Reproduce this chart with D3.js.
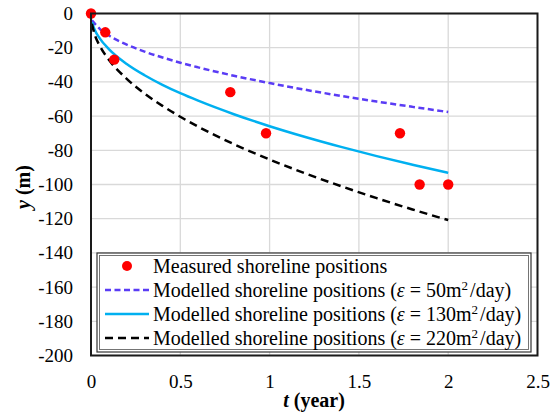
<!DOCTYPE html>
<html>
<head>
<meta charset="utf-8">
<script src="https://cdn.jsdelivr.net/npm/d3@7"></script>
<style>
  html, body { margin: 0; padding: 0; background: #fff; }
  svg { display: block; }
  svg text { font-family: 'Liberation Serif', 'Times New Roman', serif !important; fill: #000; }
</style>
</head>
<body>
<svg id="chart" width="559" height="420"></svg>
<script>
// ---- data ----
const measuredT = [0, 0.08, 0.13, 0.78, 0.98, 1.73, 1.84, 2.0];
const measuredY = [0, -11, -27, -46, -70, -70, -100, -100];

const modelT = [0.005, 0.02, 0.05, 0.1, 0.2, 0.3, 0.4, 0.5, 0.6, 0.8, 1.0, 1.2, 1.4, 1.6, 1.8, 2.0];
const model50 = [-4, -5.8, -9.1, -12.9, -18.2, -22.3, -25.7, -28.8, -31.5, -36.4, -40.7, -44.6, -48.2, -51.5, -54.6, -57.6];
const model130 = [-5, -9.3, -14.7, -20.8, -29.5, -36.1, -41.7, -46.6, -51.0, -58.9, -65.9, -72.2, -78.0, -83.4, -88.4, -93.2];
const model220 = [-6, -12.1, -19.1, -27.0, -38.2, -46.8, -54.0, -60.4, -66.2, -76.4, -85.4, -93.5, -101.0, -108.0, -114.6, -120.8];

const xTicks = [0, 0.5, 1, 1.5, 2, 2.5];
const xTickLabels = ["0", "0.5", "1", "1.5", "2", "2.5"];
const yTicks = [0, -20, -40, -60, -80, -100, -120, -140, -160, -180, -200];
const yTickLabels = ["0", "-20", "-40", "-60", "-80", "-100", "-120", "-140", "-160", "-180", "-200"];

const legendLabels = [
  { pre: "Measured shoreline positions" },
  { pre: "Modelled shoreline positions (", eps: "50" },
  { pre: "Modelled shoreline positions (", eps: "130" },
  { pre: "Modelled shoreline positions (", eps: "220" }
];

const SERIF = "'Liberation Serif', 'Times New Roman', serif";

// ---- layout ----
const svg = d3.select("#chart");
const L = 91, T = 13.5, R = 537.5, B = 355.5;
const x = d3.scaleLinear().domain([0, 2.5]).range([L, R]);
const y = d3.scaleLinear().domain([-200, 0]).range([B, T]);

// gridlines
svg.append("g").selectAll("line.h").data(yTicks).join("line")
  .attr("x1", L).attr("x2", R)
  .attr("y1", d => y(d)).attr("y2", d => y(d))
  .attr("stroke", "#d9d9d9").attr("stroke-width", 1.3);
svg.append("g").selectAll("line.v").data(xTicks).join("line")
  .attr("y1", T).attr("y2", B)
  .attr("x1", d => x(d)).attr("x2", d => x(d))
  .attr("stroke", "#d9d9d9").attr("stroke-width", 1.3);

// axes (labels only)
const xAxis = d3.axisBottom(x).tickValues(xTicks).tickFormat((d, i) => xTickLabels[i]).tickSize(0).tickPadding(19);
const gx = svg.append("g").attr("transform", `translate(0,${B})`).call(xAxis);
gx.attr("font-family", null);
gx.select(".domain").remove();
gx.selectAll("text").attr("font-size", 19).style("font-family", SERIF);

const yAxis = d3.axisLeft(y).tickValues(yTicks).tickFormat((d, i) => yTickLabels[i]).tickSize(0).tickPadding(18);
const gy = svg.append("g").attr("transform", `translate(${L},0)`).call(yAxis);
gy.attr("font-family", null);
gy.select(".domain").remove();
gy.selectAll("text").attr("font-size", 19).style("font-family", SERIF);

// lines
const line = d3.line().x(d => x(d[0])).y(d => y(d[1])).curve(d3.curveMonotoneX);
const plot = svg.append("g");
const series = [
  { vals: model50, color: "#5a3cf5", dash: "6,3.5", w: 2.5 },
  { vals: model130, color: "#00b0f0", dash: null, w: 2.5 },
  { vals: model220, color: "#000000", dash: "8,5", w: 2.5 }
];
series.forEach(s => {
  plot.append("path")
    .datum(modelT.map((t, i) => [t, s.vals[i]]))
    .attr("d", line)
    .attr("fill", "none")
    .attr("stroke", s.color)
    .attr("stroke-width", s.w)
    .attr("stroke-dasharray", s.dash);
});

// frame
svg.append("rect").attr("x", L).attr("y", T).attr("width", R - L).attr("height", B - T)
  .attr("fill", "none").attr("stroke", "#1a1a1a").attr("stroke-width", 2);

// points
plot.selectAll("circle").data(measuredT.map((t, i) => [t, measuredY[i]])).join("circle")
  .attr("cx", d => x(d[0])).attr("cy", d => y(d[1])).attr("r", 5.2)
  .attr("fill", "#ff0000");

// legend
const lg = svg.append("g");
const lx0 = 97, ly0 = 253, lx1 = 531, ly1 = 352;
lg.append("rect").attr("x", lx0).attr("y", ly0).attr("width", lx1 - lx0).attr("height", ly1 - ly0)
  .attr("fill", "#fff").attr("stroke", "#333").attr("stroke-width", 1.2);
lg.append("rect").attr("x", lx0 + 2.5).attr("y", ly0 + 2.5).attr("width", lx1 - lx0 - 5).attr("height", ly1 - ly0 - 5)
  .attr("fill", "none").attr("stroke", "#666").attr("stroke-width", 0.9);

const rowY = [266, 290, 314, 338];
const sx0 = 105, sx1 = 149;
lg.append("circle").attr("cx", (sx0 + sx1) / 2).attr("cy", rowY[0]).attr("r", 5).attr("fill", "#ff0000");
series.forEach((s, i) => {
  lg.append("line").attr("x1", sx0).attr("x2", sx1)
    .attr("y1", rowY[i + 1]).attr("y2", rowY[i + 1])
    .attr("stroke", s.color).attr("stroke-width", s.w).attr("stroke-dasharray", s.dash);
});
legendLabels.forEach((lab, i) => {
  const t = lg.append("text").attr("x", 153).attr("y", rowY[i] + 6.5).attr("font-size", 20).style("font-family", SERIF);
  t.append("tspan").text(lab.pre);
  if (lab.eps) {
    t.append("tspan").attr("font-style", "italic").text("ε");
    t.append("tspan").text(" = " + lab.eps + "m");
    t.append("tspan").attr("font-size", 13).attr("dy", -7).text("2");
    t.append("tspan").attr("dy", 7).attr("dx", 2).text("/day)");
  }
});

// axis titles
const xt = svg.append("text").attr("x", 314).attr("y", 407).attr("text-anchor", "middle")
  .attr("font-size", 20).attr("font-weight", "bold").style("font-family", SERIF);
xt.append("tspan").attr("font-style", "italic").text("t");
xt.append("tspan").text(" (year)");

const yt = svg.append("text").attr("transform", "translate(30,187) rotate(-90)").attr("text-anchor", "middle")
  .attr("font-size", 20).attr("font-weight", "bold").style("font-family", SERIF);
yt.append("tspan").attr("font-style", "italic").text("y");
yt.append("tspan").text(" (m)");
</script>
</body>
</html>
